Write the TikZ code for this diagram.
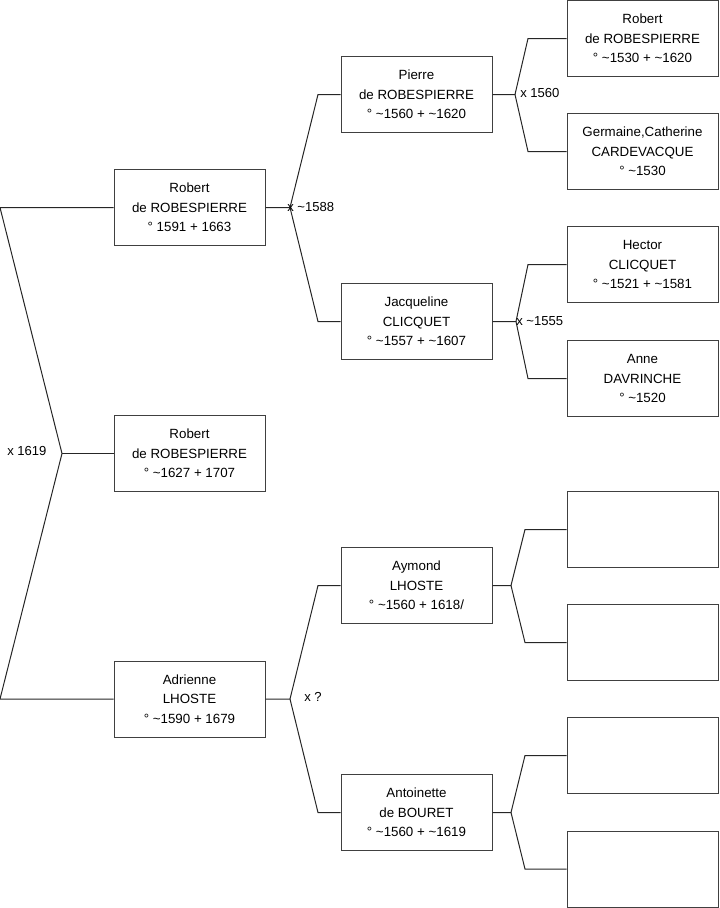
\documentclass[tikz,border=0pt]{standalone}
\usepackage{fontspec}
\setmainfont{Liberation Sans}
\newcommand\tld{\textasciitilde}
\begin{document}
\begin{tikzpicture}[x=0.75pt,y=-0.75pt,
 person/.style={draw=black!75, line width=0.75pt, minimum width=113.25pt, minimum height=57pt, inner sep=0pt, align=center, font=\fontsize{10}{14.6}\selectfont},
 link/.style={draw=black!85, line width=0.75pt},
 lbl/.style={font=\fontsize{9.8}{11}\selectfont, anchor=west, inner sep=0pt}]
\useasboundingbox (0,0) rectangle (719,908);
% generation 1
\node[person] (A) at (189.5,207.5) {Robert\\de ROBESPIERRE\\° 1591 + 1663};
\node[person] (B) at (189.5,453.5) {Robert\\de ROBESPIERRE\\° \tld1627 + 1707};
\node[person] (C) at (189.5,699) {Adrienne\\LHOSTE\\° \tld1590 + 1679};
% generation 2
\node[person] (D) at (416.5,94.5) {Pierre\\de ROBESPIERRE\\° \tld1560 + \tld1620};
\node[person] (E) at (416.5,321.5) {Jacqueline\\CLICQUET\\° \tld1557 + \tld1607};
\node[person] (F) at (416.5,585.5) {Aymond\\LHOSTE\\° \tld1560 + 1618/};
\node[person] (G) at (416.5,812.5) {Antoinette\\de BOURET\\° \tld1560 + \tld1619};
% generation 3
\node[person] (H) at (642.5,38.5) {Robert\\de ROBESPIERRE\\° \tld1530 + \tld1620};
\node[person] (I) at (642.5,151.5) {Germaine,Catherine\\CARDEVACQUE\\° \tld1530};
\node[person] (J) at (642.5,264.5) {Hector\\CLICQUET\\° \tld1521 + \tld1581};
\node[person] (K) at (642.5,378.5) {Anne\\DAVRINCHE\\° \tld1520};
\node[person] (L) at (642.5,529.5) {};
\node[person] (M) at (642.5,642.5) {};
\node[person] (N) at (642.5,755.5) {};
\node[person] (O) at (642.5,869) {};
% junctions
\coordinate (l1) at (0,207.5);
\coordinate (l2) at (62,453.5);
\coordinate (l3) at (0,699);
\coordinate (a0) at (290,207.5);
\coordinate (a1) at (318,94.5);
\coordinate (a2) at (318,321.5);
\coordinate (c0) at (290,699);
\coordinate (c1) at (318,585.5);
\coordinate (c2) at (318,812.5);
\coordinate (d0) at (515,94.5);
\coordinate (d1) at (528,38.5);
\coordinate (d2) at (528,151.5);
\coordinate (e0) at (516,321.5);
\coordinate (e1) at (528,264.5);
\coordinate (e2) at (528,378.5);
\coordinate (f0) at (511,585.5);
\coordinate (f1) at (525,529.5);
\coordinate (f2) at (525,642.5);
\coordinate (g0) at (511,812.5);
\coordinate (g1) at (525,755.5);
\coordinate (g2) at (525,869);
% connectors
\draw[link] (A.west) -- (l1) -- (l2) -- (l3) -- (C.west);
\draw[link] (l2) -- (B.west);
\draw[link] (A.east) -- (a0) -- (a1) -- (D.west);
\draw[link] (a0) -- (a2) -- (E.west);
\draw[link] (C.east) -- (c0) -- (c1) -- (F.west);
\draw[link] (c0) -- (c2) -- (G.west);
\draw[link] (D.east) -- (d0) -- (d1) -- (H.west);
\draw[link] (d0) -- (d2) -- (I.west);
\draw[link] (E.east) -- (e0) -- (e1) -- (J.west);
\draw[link] (e0) -- (e2) -- (K.west);
\draw[link] (F.east) -- (f0) -- (f1) -- (L.west);
\draw[link] (f0) -- (f2) -- (M.west);
\draw[link] (G.east) -- (g0) -- (g1) -- (N.west);
\draw[link] (g0) -- (g2) -- (O.west);
% marriage labels
\node[lbl] (m1) at (7,451) {x 1619};
\node[lbl] (m2) at (287,207) {x \tld1588};
\node[lbl] (m3) at (520,93) {x 1560};
\node[lbl] (m4) at (516,321) {x \tld1555};
\node[lbl] (m5) at (304,697) {x ?};
\end{tikzpicture}
\end{document}
